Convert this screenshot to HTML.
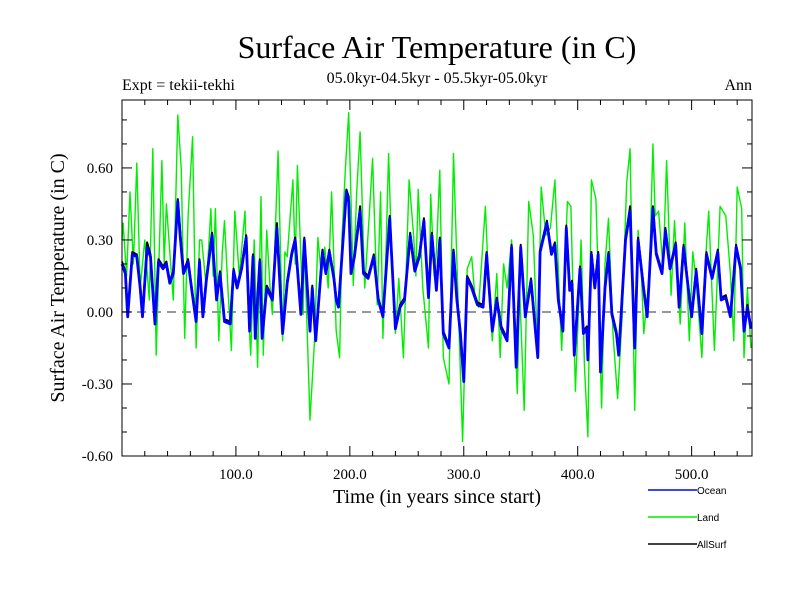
<!DOCTYPE html>
<html><head><meta charset="utf-8"><style>
body{margin:0;background:#fff;}
svg{display:block;font-family:"Liberation Serif",serif;}
</style></head><body>
<svg id="chart" width="800" height="600">
<text x="437" y="58" font-size="32" text-anchor="middle">Surface Air Temperature (in C)</text>
<text x="122" y="90" font-size="16">Expt = tekii-tekhi</text>
<text x="437" y="83" font-size="16" text-anchor="middle">05.0kyr-04.5kyr - 05.5kyr-05.0kyr</text>
<text x="752" y="90" font-size="16" text-anchor="end">Ann</text>
<text transform="translate(64,278) rotate(-90)" font-size="20" text-anchor="middle">Surface Air Temperature (in C)</text>
<text x="437" y="503" font-size="20" text-anchor="middle">Time (in years since start)</text>
<g id="plot"></g>
<g id="legend"></g>
</svg>
<script>
const xTicks=[100,200,300,400,500];
const xTickLabels=["100.0","200.0","300.0","400.0","500.0"];
const yTicks=[-0.6,-0.3,0,0.3,0.6];
const yTickLabels=["-0.60","-0.30","0.00","0.30","0.60"];
const oceanYears=[0,3,5,9,13,16,18,22,25,29,32,36,39,42,45,49,51,54,58,61,65,68,71,74,79,83,86,90,95,98,101,105,109,112,115,117,121,123,127,132,136,141,145,149,152,157,160,165,167,170,176,179,182,186,188,190,193,197,199,201,204,209,212,216,221,225,229,235,240,244,248,253,257,261,265,269,272,276,279,282,287,291,294,297,300,303,307,312,317,320,325,329,333,338,342,346,350,354,359,365,367,373,377,380,383,387,390,393,395,397,402,405,408,409,412,415,418,420,424,427,430,434,436,438,442,446,450,453,458,461,466,469,474,477,481,486,489,493,497,500,504,509,513,518,523,526,530,534,539,543,546,549,552];
const oceanVals=[.20,.16,-.02,.24,.23,.10,-.02,.27,.23,-.05,.21,.18,.20,.12,.16,.46,.32,.16,.21,.10,-.04,.21,-.02,.13,.32,.05,.16,-.04,-.05,.17,.10,.18,.31,-.08,.23,-.11,.21,-.11,.10,.05,.35,-.09,.12,.24,.30,-.01,.30,-.08,.10,-.12,.25,.16,.25,.14,.05,.02,.23,.50,.46,.16,.23,.42,.16,.14,.23,.05,-.02,.39,-.07,.02,.05,.32,.17,.23,.38,.06,.32,.09,.30,-.09,-.15,.25,.05,-.09,-.29,.14,.10,.03,.02,.24,-.08,.05,-.07,-.12,.27,-.23,.27,-.02,.13,-.19,.25,.37,.24,.28,.05,-.08,.35,.09,.12,-.18,.18,-.09,-.07,-.20,.24,.10,.24,-.25,.10,.24,-.01,-.09,-.18,-.02,.30,.42,-.15,.30,.09,-.02,.43,.24,.16,.34,.18,.28,.02,.27,.10,-.02,.17,-.09,.24,.14,.25,.05,.06,-.02,.27,.18,-.08,.02,-.07];
const allVals=[.21,.17,-.01,.25,.24,.11,-.01,.29,.24,-.04,.22,.19,.21,.13,.17,.47,.34,.17,.22,.11,-.03,.22,-.01,.14,.33,.06,.17,-.03,-.04,.18,.11,.19,.32,-.07,.24,-.10,.22,-.10,.11,.06,.37,-.08,.13,.25,.31,.00,.31,-.07,.11,-.11,.26,.17,.26,.15,.06,.03,.24,.51,.48,.17,.24,.44,.17,.15,.24,.06,-.01,.40,-.06,.03,.06,.33,.18,.24,.39,.07,.33,.10,.31,-.08,-.14,.26,.06,-.08,-.28,.15,.11,.04,.03,.25,-.07,.06,-.06,-.11,.28,-.22,.28,-.01,.14,-.18,.26,.38,.25,.29,.06,-.07,.36,.10,.13,-.17,.19,-.08,-.06,-.19,.25,.11,.25,-.24,.11,.25,.00,-.08,-.17,-.01,.31,.44,-.14,.31,.10,-.01,.44,.25,.17,.35,.19,.29,.03,.28,.11,-.01,.18,-.08,.25,.15,.26,.06,.07,-.01,.28,.19,-.07,.03,-.06];
const landYears=[0,1,4,7,10,13,16,20,24,27,30,35,37,39,42,45,49,52,55,58,62,65,68,70,74,78,80,82,85,88,90,93,96,99,103,108,110,113,116,119,122,124,127,130,132,137,141,143,145,150,152,154,159,160,165,169,172,175,178,181,184,188,191,193,196,199,203,206,209,213,217,220,224,227,229,232,234,237,240,243,247,252,256,258,260,264,269,271,274,276,279,282,287,291,295,299,303,307,310,313,319,322,325,329,332,335,338,342,347,349,353,357,361,365,368,372,376,380,384,386,391,394,398,403,406,409,412,416,418,421,424,427,431,435,439,443,446,450,453,456,458,463,466,468,471,475,478,482,485,490,494,498,501,504,509,512,515,520,525,530,534,537,540,544,546,549,552];
const landVals=[.30,.37,.15,.50,.20,.62,.10,.30,.05,.68,-.18,.63,.20,.45,.25,.05,.82,.60,-.11,.40,.73,-.15,.30,.30,.10,.43,.15,.43,-.12,.25,.38,.10,-.16,.42,.15,.42,.10,-.18,.30,-.23,.48,-.18,.34,.10,-.01,.67,-.12,.25,.23,.55,.20,.61,-.01,.30,-.45,-.12,.31,.15,.27,.10,.50,-.08,-.19,.30,.59,.83,.11,.50,.75,.10,.40,.64,.03,.50,-.11,.30,.66,.20,-.09,.14,-.19,.55,.32,.15,.51,.10,-.15,.49,.15,.25,.59,-.19,-.30,.66,.05,-.54,.18,.23,.05,.02,.44,.10,-.12,.16,-.19,.20,.10,.30,-.34,.10,-.41,.46,.32,-.19,.52,.32,.35,.55,.05,-.16,.46,.44,-.33,.30,-.23,-.52,.55,.47,.15,-.40,.20,.39,-.09,-.36,-.02,.54,.68,-.41,.34,.15,-.09,.16,.70,.40,.42,.18,.63,.07,.38,-.05,.37,-.12,.25,.13,-.19,.20,.42,-.16,.44,.40,.16,-.12,.52,.43,-.19,.10,-.15];

const NS="http://www.w3.org/2000/svg";
const L=122,R=752,T=100,B=456,X0=0,X1=553,Y0=-0.6,Y1=0.883;
const xs=v=>L+(v-X0)/(X1-X0)*(R-L);
const ys=v=>B-(v-Y0)/(Y1-Y0)*(B-T);
const plot=document.getElementById('plot');
function mk(tag,attrs,parent){const e=document.createElementNS(NS,tag);for(const k in attrs)e.setAttribute(k,attrs[k]);(parent||plot).appendChild(e);return e;}

const zl=mk('line',{x1:L,x2:R,y1:ys(0),y2:ys(0),stroke:'#777','stroke-width':1.5,'stroke-dasharray':'9,6'});



function series(years,vals,color,w,name){
  const d=years.map((y,i)=>(i?'L':'M')+xs(y).toFixed(1)+','+ys(vals[i]).toFixed(1)).join('');
  const p=mk('path',{d:d,fill:'none',stroke:color,'stroke-width':w,'stroke-linejoin':'round'});
  
  
}
series(landYears,landVals,'#00ee00',1.4,'land-line');
series(oceanYears,allVals,'#000000',2,'allsurf-line');
series(oceanYears,oceanVals,'#0000ff',2.8,'ocean-line');

const frame=mk('rect',{x:L,y:T,width:R-L,height:B-T,fill:'none',stroke:'#000','stroke-width':1});



for(let v=20;v<X1;v+=20){
  const major=v%100===0, len=major?10:5, x=xs(v);
  mk('line',{x1:x,x2:x,y1:B,y2:B-len,stroke:'#000'});
  mk('line',{x1:x,x2:x,y1:T,y2:T+len,stroke:'#000'});
}
for(let i=-6;i<=8;i++){
  const v=i/10, y=ys(v), major=i%3===0, len=major?10:5;
  mk('line',{x1:L,x2:L+len,y1:y,y2:y,stroke:'#000'});
  mk('line',{x1:R,x2:R-len,y1:y,y2:y,stroke:'#000'});
}
xTicks.forEach((v,i)=>{
  const t=mk('text',{x:xs(v),y:479,'font-size':15,'text-anchor':'middle'});
  t.textContent=xTickLabels[i];
  
  
});
yTicks.forEach((v,i)=>{
  const t=mk('text',{x:113,y:ys(v)+5,'font-size':15,'text-anchor':'end'});
  t.textContent=yTickLabels[i];
  
  
});

const legend=document.getElementById('legend');
const legendNames=["Ocean","Land","AllSurf"];
const legendColors=["#0000ff","#00ee00","#000000"];
legendNames.forEach((n,i)=>{
  const y=490+i*27;
  const g=mk('g',{},legend);
  
  
  mk('line',{x1:648,x2:697,y1:y,y2:y,stroke:legendColors[i],'stroke-width':1.5},g);
  const t=mk('text',{x:697,y:y+4,'font-size':10,'font-family':'Liberation Sans, sans-serif'},g);
  t.textContent=n;
});
</script>
</body></html>
